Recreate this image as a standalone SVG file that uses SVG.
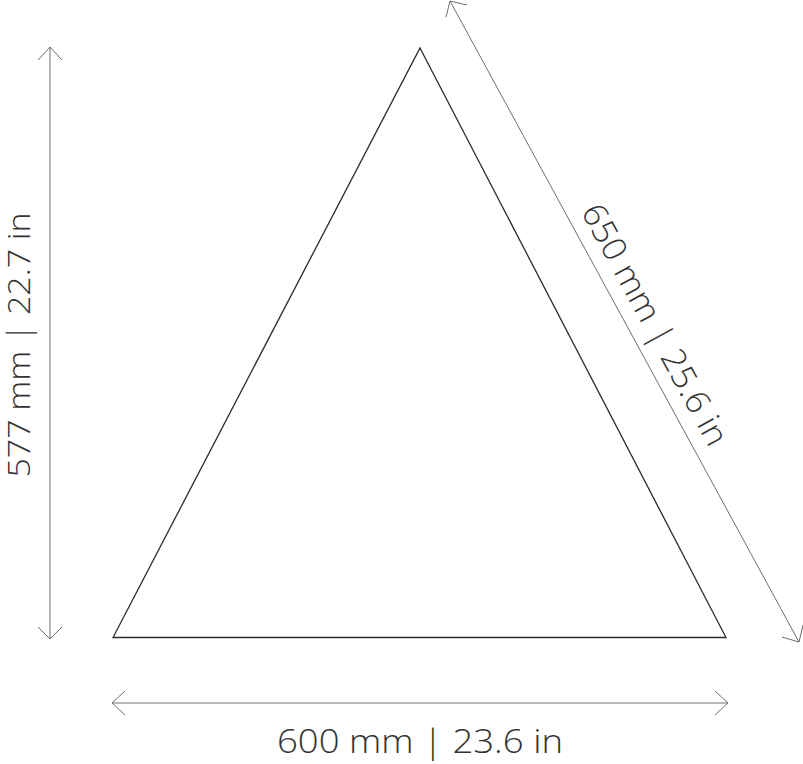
<svg xmlns="http://www.w3.org/2000/svg" width="803" height="764" viewBox="0 0 803 764">
<style>
.shape{fill:none;stroke:#2a2a2a;stroke-width:1.3;stroke-linejoin:miter}
.dim{fill:none;stroke:#6e6e6e;stroke-width:1}
.lbl{font-family:"Open Sans","Lato",sans-serif;font-weight:300;font-size:33px;fill:#333333}
</style>
<rect width="803" height="764" fill="#ffffff"/>
<g id="triangle">
<polygon class="shape" points="420,48 726,637.5 113,637.5"/>
</g>
<g id="connectors">
<g id="dim-height">
<line class="dim" x1="50" y1="47" x2="50" y2="639"/>
<polyline class="dim" points="38,60 50,47 62,60"/>
<polyline class="dim" points="38,627 50,639 62,627"/>
</g>
<g id="dim-width">
<line class="dim" x1="112" y1="703" x2="728" y2="703"/>
<polyline class="dim" points="125,691 112,703 125,715"/>
<polyline class="dim" points="715,691 728,703 715,715"/>
</g>
<g id="dim-side">
<line class="dim" x1="450" y1="1" x2="799" y2="642"/>
<polyline class="dim" points="446,17 450,1 467,5"/>
<polyline class="dim" points="782,637 799,642 803,625"/>
</g>
</g>
<g id="labels">
<text class="lbl" x="420" y="753" text-anchor="middle" textLength="286" lengthAdjust="spacingAndGlyphs">600 mm | 23.6 in</text>
<text class="lbl" transform="translate(30,345) rotate(-90)" x="0" y="0" text-anchor="middle" textLength="265" lengthAdjust="spacingAndGlyphs" style="font-size:32px">577 mm | 22.7 in</text>
<text class="lbl" transform="translate(645,330) rotate(61.4)" x="0" y="0" text-anchor="middle" textLength="270" lengthAdjust="spacingAndGlyphs">650 mm | 25.6 in</text>
</g>
</svg>
